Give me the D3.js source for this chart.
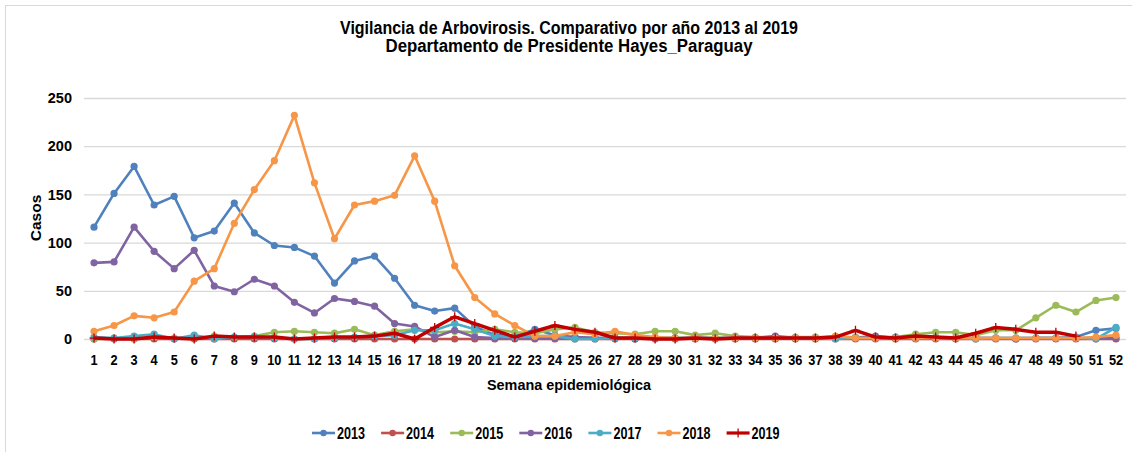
<!DOCTYPE html>
<html>
<head>
<meta charset="utf-8">
<script src="https://cdn.jsdelivr.net/npm/d3@7"></script>
<style>
  html, body { margin: 0; padding: 0; background: #fff; }
  svg { display: block; }
  text { font-family: "Liberation Sans", Arial, sans-serif; font-weight: bold; fill: #000; }
</style>
</head>
<body>
<svg id="chart" width="1132" height="452"></svg>
<script>
const titleLines = ["Vigilancia de Arbovirosis. Comparativo por año 2013 al 2019", "Departamento de Presidente Hayes_Paraguay"];
const yTitle = "Casos";
const xTitle = "Semana epidemiológica";
const weeks = d3.range(1, 53);
const yTicks = [0, 50, 100, 150, 200, 250];
const years = ["2013", "2014", "2015", "2016", "2017", "2018", "2019"];
const colors = ["#4F81BD", "#C0504D", "#9BBB59", "#8064A2", "#4BACC6", "#F79646", "#C00000"];

const v2013 = [116,151,179,139,148,105,112,141,110,97,95,86,58,81,86,63,35,29,32,13,4,3,10,4,2,1,1,0,1,1,1,1,1,1,2,1,1,1,1,1,1,1,1,1,1,1,1,1,1,2,9,11];
const v2014 = [0,0,0,0,0,0,0,0,0,0,0,0,0,0,0,0,0,0,0,0,0,0,0,0,0,0,0,0,0,0,0,0,0,0,0,0,0,0,0,0,0,0,0,0,0,0,0,0,0,0,0,0];
const v2015 = [0,1,0,2,1,1,3,2,3,7,8,7,6,10,4,8,10,7,8,7,10,7,6,10,12,7,6,5,8,8,4,6,3,2,2,2,2,2,2,2,2,5,7,7,4,9,9,22,35,28,40,43];
const v2016 = [79,80,116,91,73,92,55,49,62,55,38,27,42,39,34,16,13,2,9,2,1,1,1,1,2,1,1,1,1,1,1,1,1,1,3,1,1,1,1,3,1,1,1,1,1,1,0,1,1,1,1,1];
const v2017 = [2,1,3,5,0,4,0,2,2,1,0,0,1,2,3,4,9,9,16,10,3,2,3,3,0,0,1,1,1,1,1,1,1,1,1,1,1,0,1,1,2,1,1,1,0,1,1,1,1,1,0,12];
const v2018 = [8,14,24,22,28,60,73,120,155,185,232,162,104,139,143,149,190,143,76,43,26,14,3,3,7,5,8,4,2,1,1,1,1,1,1,1,1,3,1,1,1,1,1,1,1,1,1,1,1,1,2,4];
const v2019 = [1,0,0,2,1,0,3,2,2,2,0,1,2,2,3,6,0,12,23,16,9,2,8,14,10,7,1,1,0,0,1,0,1,1,1,1,1,2,9,2,1,3,2,1,6,12,10,7,7,3];

const seriesValues = [v2013, v2014, v2015, v2016, v2017, v2018, v2019];

const svg = d3.select("#chart");

// outer frame
svg.append("rect").attr("x", 5.5).attr("y", 5.5).attr("width", 1200).attr("height", 600)
  .attr("fill", "none").attr("stroke", "#D9D9D9").attr("stroke-width", 1);

const x = d3.scaleBand().domain(weeks).range([84, 1126]).paddingInner(0).paddingOuter(0);
const xc = d => x(d) + x.bandwidth() / 2;
const y = d3.scaleLinear().domain([0, 250]).range([339, 98]);

// gridlines
const yAxis = d3.axisLeft(y).tickValues(yTicks).tickSize(-(1126 - 84)).tickPadding(12);
const gy = svg.append("g").attr("transform", "translate(84,0)").call(yAxis);
gy.select(".domain").remove();
gy.selectAll(".tick line").attr("stroke", "#D9D9D9").attr("stroke-width", 1.3);
gy.selectAll(".tick text").style("font-size", "14.5px").attr("fill", "#000");

// x axis
const xAxis = d3.axisBottom(x).tickSize(0).tickPadding(16);
const gx = svg.append("g").attr("transform", "translate(0,339)").call(xAxis);
gx.select(".domain").remove();
gx.selectAll(".tick text").style("font-size", "14.5px").attr("fill", "#000")
  .attr("transform", "scale(0.88,1)");

// titles
svg.append("text").attr("x", 569).attr("y", 34).attr("text-anchor", "middle").style("font-size", "18px")
  .attr("textLength", 458).attr("lengthAdjust", "spacingAndGlyphs").text(titleLines[0]);
svg.append("text").attr("x", 569).attr("y", 52).attr("text-anchor", "middle").style("font-size", "18px")
  .attr("textLength", 367).attr("lengthAdjust", "spacingAndGlyphs").text(titleLines[1]);
svg.append("text").attr("transform", "translate(41,218) rotate(-90)").attr("text-anchor", "middle").style("font-size", "15.5px").text(yTitle);
svg.append("text").attr("x", 569).attr("y", 390).attr("text-anchor", "middle").style("font-size", "15.5px")
  .attr("textLength", 164).attr("lengthAdjust", "spacingAndGlyphs").text(xTitle);

const line = d3.line().x((d, i) => xc(weeks[i])).y(d => y(d));

function plusPath(s) { return `M${-s},0H${s}M0,${-s}V${s}`; }

seriesValues.forEach((vals, si) => {
  const g = svg.append("g");
  const isLast = si === seriesValues.length - 1;
  g.append("path").datum(vals).attr("d", line).attr("fill", "none")
    .attr("stroke", colors[si]).attr("stroke-width", isLast ? 3.5 : 2.6).attr("stroke-linejoin", "round");
  if (isLast) {
    g.selectAll("path.m").data(vals).enter().append("path").attr("class", "m")
      .attr("transform", (d, i) => `translate(${xc(weeks[i])},${y(d)})`)
      .attr("d", plusPath(4.5)).attr("stroke", colors[si]).attr("stroke-width", 1.3).attr("fill", "none");
  } else {
    g.selectAll("circle").data(vals).enter().append("circle")
      .attr("cx", (d, i) => xc(weeks[i])).attr("cy", d => y(d)).attr("r", 3.6).attr("fill", colors[si]);
  }
});

// legend
const legend = svg.append("g");
years.forEach((yr, i) => {
  const lx = 312 + i * 69.1, ly = 433;
  const g = legend.append("g").attr("transform", `translate(${lx},${ly})`);
  const last = i === years.length - 1;
  g.append("line").attr("x1", 0).attr("x2", 23).attr("y1", 0).attr("y2", 0)
    .attr("stroke", colors[i]).attr("stroke-width", last ? 3.2 : 2.6);
  if (last) {
    g.append("path").attr("transform", "translate(11.5,0)").attr("d", plusPath(4.5))
      .attr("stroke", colors[i]).attr("stroke-width", 1.3);
  } else {
    g.append("circle").attr("cx", 11.5).attr("cy", 0).attr("r", 3.2).attr("fill", colors[i]);
  }
  g.append("text").attr("x", 25).attr("y", 6).style("font-size", "17px")
    .attr("textLength", 28).attr("lengthAdjust", "spacingAndGlyphs").text(yr);
});
</script>
</body>
</html>
